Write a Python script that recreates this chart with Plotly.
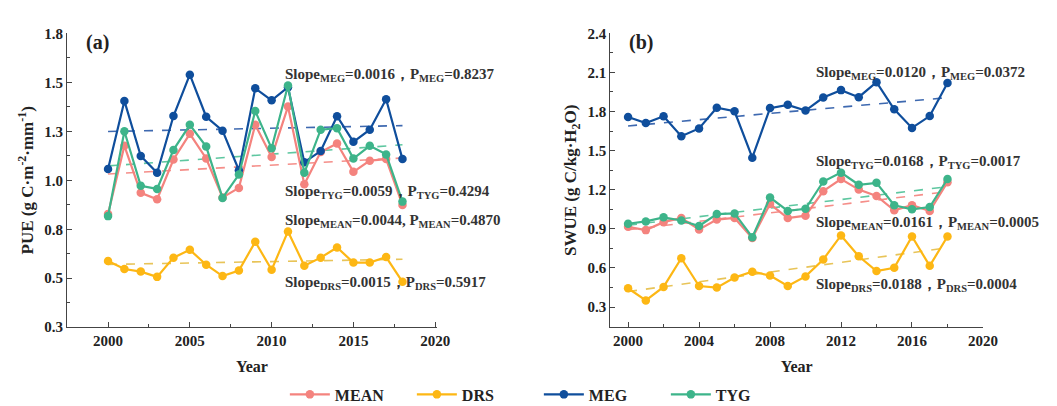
import numpy as np
import plotly.graph_objects as go

years = list(range(2000, 2019))

# Panel (a) PUE
pue_mean = [0.828, 1.176, 0.936, 0.903, 1.106, 1.237, 1.111, 0.912, 0.961, 1.283, 1.119, 1.376, 0.980, 1.144, 1.188, 1.043, 1.100, 1.108, 0.874]
pue_drs = [0.588, 0.547, 0.534, 0.507, 0.605, 0.645, 0.569, 0.511, 0.539, 0.686, 0.543, 0.739, 0.564, 0.605, 0.657, 0.580, 0.580, 0.608, 0.482]
pue_meg = [1.057, 1.405, 1.124, 1.038, 1.328, 1.539, 1.324, 1.253, 1.051, 1.469, 1.408, 1.475, 1.092, 1.149, 1.327, 1.196, 1.258, 1.413, 1.108]
pue_tyg = [0.817, 1.250, 0.972, 0.956, 1.155, 1.283, 1.172, 0.910, 1.029, 1.353, 1.163, 1.484, 1.038, 1.258, 1.266, 1.111, 1.176, 1.132, 0.891]

# Panel (b) SWUE
swue_mean = [0.915, 0.890, 0.951, 0.983, 0.895, 0.971, 0.983, 0.829, 1.090, 0.983, 1.001, 1.189, 1.282, 1.201, 1.152, 1.042, 1.081, 1.037, 1.258]
swue_drs = [0.444, 0.351, 0.454, 0.674, 0.461, 0.449, 0.527, 0.571, 0.542, 0.461, 0.535, 0.665, 0.849, 0.689, 0.576, 0.601, 0.841, 0.616, 0.841]
swue_meg = [1.758, 1.711, 1.763, 1.611, 1.670, 1.829, 1.802, 1.446, 1.826, 1.851, 1.807, 1.907, 1.964, 1.910, 2.025, 1.817, 1.674, 1.765, 2.018]
swue_tyg = [0.939, 0.957, 0.988, 0.964, 0.922, 1.013, 1.018, 0.836, 1.140, 1.037, 1.054, 1.263, 1.331, 1.238, 1.253, 1.081, 1.050, 1.067, 1.282]

series_names = ["MEAN", "DRS", "MEG", "TYG"]
colors = {"MEAN": "#F4837E", "DRS": "#FDB714", "MEG": "#0F4E9C", "TYG": "#3DB48A"}
trend_colors = {"MEAN": "#F58E89", "DRS": "#E8C458", "MEG": "#3E69B0", "TYG": "#5EC7A0"}

a_tickvals = [0.25, 0.5, 0.75, 1.0, 1.25, 1.5, 1.75]
a_ticktext = ["0.3", "0.5", "0.8", "1.0", "1.3", "1.5", "1.8"]
b_tickvals = [0.3, 0.6, 0.9, 1.2, 1.5, 1.8, 2.1, 2.4]
b_ticktext = ["0.3", "0.6", "0.9", "1.2", "1.5", "1.8", "2.1", "2.4"]

ann_a = [
    ("Slope<sub>MEG</sub>=0.0016，P<sub>MEG</sub>=0.8237", 61),
    ("Slope<sub>TYG</sub>=0.0059，P<sub>TYG</sub>=0.4294", 183),
    ("Slope<sub>MEAN</sub>=0.0044, P<sub>MEAN</sub>=0.4870", 213),
    ("Slope<sub>DRS</sub>=0.0015，P<sub>DRS</sub>=0.5917", 278),
]
ann_b = [
    ("Slope<sub>MEG</sub>=0.0120，P<sub>MEG</sub>=0.0372", 59),
    ("Slope<sub>TYG</sub>=0.0168，P<sub>TYG</sub>=0.0017", 152),
    ("Slope<sub>MEAN</sub>=0.0161，P<sub>MEAN</sub>=0.0005", 215),
    ("Slope<sub>DRS</sub>=0.0188，P<sub>DRS</sub>=0.0004", 280),
]

W, H = 1057, 406
FONT = "Liberation Serif"
AX = "#444444"
TXT = "#222222"

def bfont(size, color=TXT):
    return dict(family=FONT, size=size, color=color, weight="bold")

fig = go.Figure()

data_a = {"MEAN": pue_mean, "DRS": pue_drs, "MEG": pue_meg, "TYG": pue_tyg}
data_b = {"MEAN": swue_mean, "DRS": swue_drs, "MEG": swue_meg, "TYG": swue_tyg}

for data, xa, ya in [(data_a, "x", "y"), (data_b, "x2", "y2")]:
    for name in series_names:
        vals = np.array(data[name])
        k, b = np.polyfit(years, vals, 1)
        fit = [k * yr + b for yr in years]
        fig.add_trace(go.Scatter(x=years, y=fit, mode="lines", xaxis=xa, yaxis=ya,
                                 line=dict(color=trend_colors[name], width=1.6, dash="dash"),
                                 showlegend=False, hoverinfo="skip"))

for data, xa, ya, show in [(data_a, "x", "y", True), (data_b, "x2", "y2", False)]:
    for name in series_names:
        fig.add_trace(go.Scatter(x=years, y=data[name], mode="lines+markers", name=name,
                                 xaxis=xa, yaxis=ya, showlegend=show,
                                 line=dict(color=colors[name], width=2.2),
                                 marker=dict(color=colors[name], size=8.5)))

common_axis = dict(showline=True, linecolor=AX, linewidth=1.3, ticks="inside", tickcolor=AX,
                   ticklen=5, tickwidth=1.2, showgrid=False, zeroline=False, tickfont=bfont(15),
                   mirror=False)

ydom = [(H - 324) / H, (H - 18) / H]
fig.update_layout(
    width=W, height=H, margin=dict(l=0, r=0, t=0, b=0),
    paper_bgcolor="white", plot_bgcolor="white",
    font=dict(family=FONT, color=TXT),
    xaxis=dict(domain=[60 / W, 435 / W], range=[1997.5, 2020.1], tickvals=[2000, 2005, 2010, 2015, 2020],
               minor=dict(dtick=2.5, tick0=2000, ticks="inside", ticklen=3, tickcolor=AX),
               title=dict(text="Year", font=bfont(16), standoff=12),
               **common_axis),
    yaxis=dict(domain=ydom, range=[0.25, 1.75], tickvals=a_tickvals, ticktext=a_ticktext,
               minor=dict(dtick=0.125, tick0=0.25, ticks="inside", ticklen=3, tickcolor=AX),
               title=dict(text="PUE (g C·m<sup>-2</sup>·mm<sup>-1</sup>)", font=bfont(17), standoff=6),
               anchor="x", **common_axis),
    xaxis2=dict(domain=[611 / W, 989 / W], range=[1999, 2020], tickvals=[2000, 2004, 2008, 2012, 2016, 2020],
                minor=dict(dtick=2, tick0=2000, ticks="inside", ticklen=3, tickcolor=AX),
                title=dict(text="Year", font=bfont(16), standoff=12),
                anchor="y2", **common_axis),
    yaxis2=dict(domain=ydom, range=[0.145, 2.4], tickvals=b_tickvals, ticktext=b_ticktext,
                minor=dict(dtick=0.15, tick0=0.3, ticks="inside", ticklen=3, tickcolor=AX),
                title=dict(text="SWUE (g C/kg·H<sub>2</sub>O)", font=bfont(17), standoff=6),
                anchor="x2", **common_axis),
    legend=dict(orientation="h", x=0.5 + 10 / W, xanchor="center", y=(H - 394) / H, yanchor="middle",
                font=bfont(16), itemwidth=40,
                tracegroupgap=0, entrywidthmode="pixels", entrywidth=72),
    showlegend=True,
)

annotations = []
for text, ypix in ann_a:
    annotations.append(dict(text=text, xref="paper", yref="paper", x=279 / W, y=(H - ypix) / H,
                            xanchor="left", yanchor="middle", showarrow=False,
                            font=bfont(15, "#333333")))
for text, ypix in ann_b:
    annotations.append(dict(text=text, xref="paper", yref="paper", x=818 / W, y=(H - ypix) / H,
                            xanchor="left", yanchor="middle", showarrow=False,
                            font=bfont(15, "#333333")))
annotations.append(dict(text="(a)", xref="paper", yref="paper", x=77 / W, y=(H - 28) / H,
                        xanchor="left", yanchor="middle", showarrow=False, font=bfont(20)))
annotations.append(dict(text="(b)", xref="paper", yref="paper", x=628 / W, y=(H - 28) / H,
                        xanchor="left", yanchor="middle", showarrow=False, font=bfont(20)))
fig.update_layout(annotations=annotations)

fig.write_html("out.html")
